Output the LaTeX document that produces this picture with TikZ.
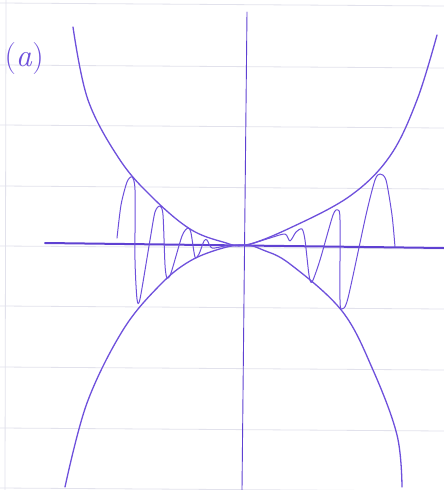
\documentclass[tikz,border=0pt]{standalone}
\usepackage{xcolor}
\definecolor{ink}{RGB}{110,80,220}
\definecolor{inkdark}{RGB}{95,65,210}
\definecolor{paper}{RGB}{226,226,236}
\begin{document}
\begin{tikzpicture}[x=1pt,y=-1pt,
  ruling/.style={draw=paper,line width=0.8pt},
  envelope/.style={draw=ink,line width=1.3pt,line cap=round,line join=round},
  wave/.style={draw=ink,line width=1pt,line cap=round,line join=round},
  axis/.style={draw=inkdark,line cap=round}]
\useasboundingbox[fill=white] (0,0) rectangle (444,490);
% ruled paper
\foreach \y in {3,65,125,186,246,306,367,428,488}
  \draw[ruling] (0,\y) -- (444,\y+3);
\draw[ruling] (6,0) -- (5,490);
% label
\node[text=ink,anchor=west] (lab) at (1,59) {\fontsize{32}{32}\selectfont(\textit{a})};
% axes
\draw[axis,line width=0.9pt] (247,12) -- (242,490);
\draw[axis,line width=2pt] (45,243) -- (444,248);
% upper envelope
\draw[envelope] plot[smooth,tension=0.6] coordinates {
  (73,27) (88,100) (120,160) (153,198) (190,229) (223,242) (246,245)
  (290,228) (350,196) (390,156) (417,100) (437,35)};
% lower envelope
\draw[envelope] plot[smooth,tension=0.6] coordinates {
  (65,487) (87,403) (123,330) (160,285) (190,261) (223,248) (246,245)
  (263,250) (290,264) (342,311) (373,370) (397,435) (402,487)};
% left damped oscillation
\draw[wave] plot[smooth,tension=0.45] coordinates {
  (117,238) (121,205) (127,182) (132,177) (135,190) (135,260) (137,299) (140,299)
  (150,240) (155,212) (160,206) (163,215) (165,265) (167,278) (171,273)
  (182,236) (188,228) (191,233) (195,257) (199,254) (204,241) (207,240) (212,248) (225,246) (240,245)};
% right damped oscillation
\draw[wave] plot[smooth,tension=0.45] coordinates {
  (248,245) (270,238) (285,234) (290,241) (296,232) (302,229) (305,240) (309,275) (312,282)
  (320,260) (333,215) (338,210) (340,220) (340,300) (342,309) (348,298)
  (366,215) (375,180) (380,174) (386,180) (392,215) (395,247)};
\end{tikzpicture}
\end{document}
